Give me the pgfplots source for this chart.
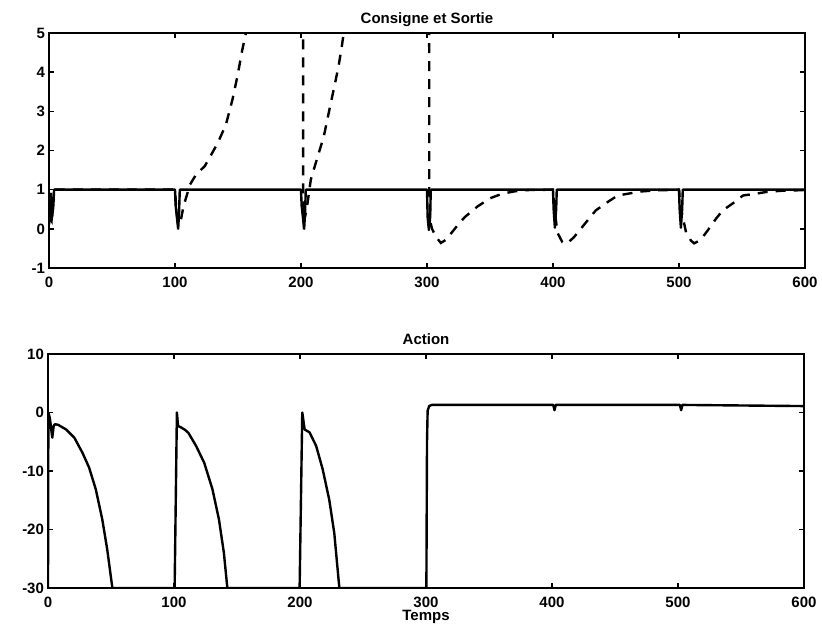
\documentclass[border=0pt]{standalone}
\usepackage{pgfplots}
\pgfplotsset{compat=1.18}
\usepackage{fontspec}
\setmainfont{Liberation Sans}
\begin{document}
\begin{tikzpicture}
\useasboundingbox (0pt,0pt) rectangle (411pt,-316.5pt);
\pgfplotsset{
 mystyle/.style={
  scale only axis, width=378pt,
  xmin=0, xmax=600, xtick={0,100,...,600},
  tick align=inside, major tick length=2.5pt,
  axis line style={line width=0.9pt},
  every tick/.style={line width=0.8pt, black},
  /pgf/number format/assume math mode=true,
  ticklabel style={font=\fontsize{7.5}{9}\selectfont\bfseries},
  title style={font=\fontsize{7.5}{9}\selectfont\bfseries, at={(0.5,1)}, anchor=base, yshift=-1pt},
  xlabel style={font=\fontsize{7.5}{9}\selectfont\bfseries, at={(axis description cs:0.5,0)}, anchor=base, yshift=-16pt},
  xticklabel style={yshift=-1pt},
  yticklabel style={xshift=1.5pt},
 },
 sol/.style={black, line width=1.2pt, line join=round},
 das/.style={black, line width=1.2pt, dash pattern=on 5pt off 4pt},
}
\begin{axis}[mystyle, at={(24.5pt,-134pt)}, anchor=south west, height=117.5pt,
  ymin=-1, ymax=5, ytick={-1,0,...,5}, title={Consigne et Sortie}]
\addplot[sol] coordinates {(0,0.1)(0.5,0.4)(1,0.2)(1.5,0.9)(2.5,0.3)(3.5,0.6)(4,1)
 (100,1)(100.5,0.6)(101.5,0.3)(102.5,0)(103.2,0.4)(103.8,1)
 (200,1)(200.5,0.6)(201.5,0.3)(202.5,0)(203.2,0.4)(203.8,1)
 (300,1)(300.5,0.3)(301.5,-0.03)(302.5,0.3)(303,1)
 (400,1)(400.5,0.5)(401.5,0.03)(402.5,0.5)(403,1)
 (500,1)(500.5,0.5)(501.5,0.03)(502.5,0.5)(503,1)(600,1)};
\addplot[das] coordinates {(0,0.3)(2,0.2)(3,0.8)(5,1)(100,1)(101,0.5)(102.5,0.1)(104.5,0.2)
 (106.7,0.57)(111.9,1.13)(117,1.4)(123.6,1.6)(128,1.85)(133.9,2.19)(140.4,2.66)(145.6,3.3)
 (149.5,3.89)(153.4,4.57)(156,4.96)(160,6)(170,9)(200,20)(201.5,20)(201.7,1)(202.3,0.2)
 (203.5,0.35)(205.2,0.66)(207.8,1.26)(211.7,1.68)(218.1,2.36)(222,2.96)(225.9,3.55)
 (229.8,4.15)(232.4,4.66)(233.7,4.96)(240,7)(260,12)(301,20)(301.5,20)(301.8,1)(302.5,0.2)
 (304,0)(307,-0.2)(311,-0.36)(315,-0.28)(320,-0.08)(325,0.12)(330,0.3)(340,0.57)(350,0.78)
 (360,0.9)(370,0.96)(380,0.99)(400,1)(401,0.6)(403.4,-0.09)(407.4,-0.34)(410,-0.38)
 (413,-0.32)(416.7,-0.21)(422,0)(428.6,0.26)(433.9,0.47)(443.2,0.68)(451.2,0.85)
 (461.8,0.91)(468.4,0.95)(480,0.98)(500,1)(501,0.6)(505.6,-0.09)(509.5,-0.3)(512,-0.37)
 (515,-0.32)(518.8,-0.21)(522.8,-0.04)(529.4,0.26)(534.7,0.47)(544,0.68)(550.7,0.85)
 (561.3,0.9)(569.2,0.94)(580,0.97)(600,0.99)};
\end{axis}
\begin{axis}[mystyle, at={(24pt,-294pt)}, anchor=south west, height=117pt,
  ymin=-30, ymax=10, ytick={-30,-20,...,10}, title={Action}, xlabel={Temps}]
\addplot[sol] coordinates {(0,-30)(0.3,0)(1.5,-1)(3.4,-4.3)(4.5,-2.3)(5.5,-2)(8,-2.1)
 (14.4,-2.9)(20.9,-4.3)(27.4,-6.9)(32.6,-9.4)(37.9,-13.1)(43.1,-18.3)(47,-23.4)(50.9,-29.7)
 (51.2,-30)(100.5,-30)(102.3,0)(103.2,-2.3)(106,-2.6)(109,-3)(111.5,-3.5)(117.5,-5.7)
 (124,-8.6)(130.5,-13.1)(135.7,-18.3)(139.6,-24)(142.2,-29.7)(142.4,-30)(199.7,-30)
 (201.8,0)(203.7,-2.9)(207.6,-3.4)(212.8,-5.7)(218,-9.7)(223.2,-14.9)(227.2,-20.6)
 (231.1,-29.7)(231.3,-30)(300.3,-30)(300.8,-5)(301.3,0.3)(302.5,1.1)(304.5,1.3)
 (401,1.3)(402,0.4)(403,1.3)(501.5,1.3)(502.5,0.4)(503.5,1.3)(600,1.1)};
\end{axis}
\end{tikzpicture}
\end{document}
